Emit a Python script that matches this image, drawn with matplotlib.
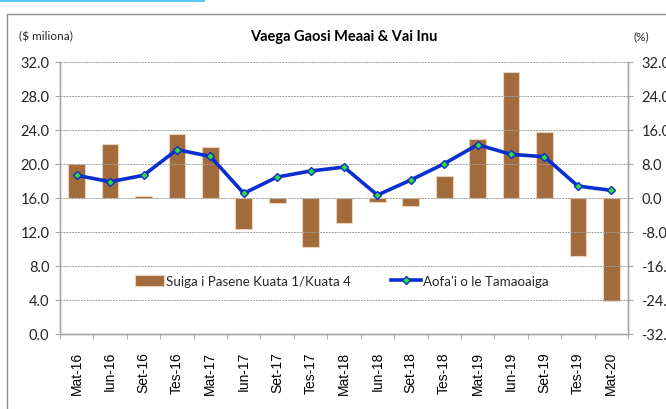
import matplotlib
matplotlib.use("Agg")
import matplotlib.pyplot as plt
from matplotlib.lines import Line2D
from matplotlib.patches import Patch, Rectangle
import numpy as np

categories = ["Mat-16", "Iun-16", "Set-16", "Tes-16", "Mat-17", "Iun-17", "Set-17", "Tes-17",
              "Mat-18", "Iun-18", "Set-18", "Tes-18", "Mat-19", "Iun-19", "Set-19", "Tes-19", "Mat-20"]
pct_change = [8.0, 12.6, 0.3, 15.0, 12.0, -7.4, -1.3, -11.7, -6.0, -1.0, -2.0, 5.2, 13.9, 29.6, 15.5, -13.7, -24.2]
level = [18.63, 17.88, 18.63, 21.65, 20.86, 16.51, 18.43, 19.14, 19.6, 16.31, 18.08, 20.0, 22.24, 21.1, 20.82, 17.37, 16.86]
left_ticks = [0, 4, 8, 12, 16, 20, 24, 28, 32]
right_ticks = [-32, -24, -16, -8, 0, 8, 16, 24, 32]

title = "Vaega Gaosi Meaai & Vai Inu"
left_unit = "($ miliona)"
right_unit = "(%)"
bar_label = "Suiga i Pasene Kuata 1/Kuata 4"
line_label = "Aofa'i o le Tamaoaiga"

W, H = 666, 410
fig = plt.figure(figsize=(W / 100, H / 100), dpi=100)
FONT = "Lato"
grey = "#A6A6A6"

# plot area in pixels
x0, x1 = 60, 628
ytop, ybot = 62.7, 334.7
ax = fig.add_axes([x0 / W, 1 - ybot / H, (x1 - x0) / W, (ybot - ytop) / H])
ax2 = ax.twinx()

x = np.arange(len(categories))
ax2.bar(x, pct_change, width=0.5, color="#A26B3B", edgecolor="#E8D2BC", linewidth=0.8, zorder=2)
ax.plot(x, level, color="#0A2FD0", linewidth=2.6, marker="D", markersize=4.5,
        markerfacecolor="#33DD33", markeredgecolor="#0A2FD0", markeredgewidth=1.0, zorder=3)

ax.set_zorder(ax2.get_zorder() + 1)
ax.patch.set_visible(False)

ax.set_ylim(0, 32)
ax.set_yticks(left_ticks)
ax.set_yticklabels([f"{v:.1f}" for v in left_ticks], fontsize=10.5, family=FONT, color="#262626")
ax2.set_ylim(-32, 32)
ax2.set_yticks(right_ticks)
ax2.set_yticklabels([f"{v:.1f}" for v in right_ticks], fontsize=10.5, family=FONT, color="#262626")

ax.set_xlim(-0.5, len(categories) - 0.5)
ax.set_xticks(x)
ax.set_xticklabels(categories, rotation=90, fontsize=10, family="Liberation Sans", color="#000000")
ax.set_xticks(np.arange(-0.5, len(categories), 1.0), minor=True)
ax.tick_params(axis="x", which="major", length=0, pad=12.5)
ax.tick_params(axis="x", which="minor", length=3.6, color=grey, direction="out")
ax.tick_params(axis="y", length=3.6, color=grey, direction="out", pad=4)
ax2.tick_params(axis="y", length=3.6, color=grey, direction="out", pad=6)

ax.yaxis.grid(True, color="#A0A0A0", linestyle=(0, (2, 1)), linewidth=0.7)
ax.set_axisbelow(True)

for a in (ax, ax2):
    a.spines["top"].set_visible(False)
    for s in ("left", "right", "bottom"):
        a.spines[s].set_color(grey)
        a.spines[s].set_linewidth(1.0)

handles = [Patch(facecolor="#A26B3B", edgecolor="#E8D2BC", linewidth=0.8),
           Line2D([0], [0], color="#0A2FD0", linewidth=2.6, marker="D", markersize=4,
                  markerfacecolor="#33DD33", markeredgecolor="#0A2FD0")]
leg = ax.legend(handles, [bar_label, line_label], ncol=2, loc="center left",
                bbox_to_anchor=((123 - x0) / (x1 - x0), (ybot - 282) / (ybot - ytop)),
                frameon=False, prop={"family": FONT, "size": 9.6},
                handlelength=2.2, handleheight=0.9, handletextpad=0.15, columnspacing=3.0)
for t in leg.get_texts():
    t.set_color("#262626")

fig.text(344 / W, 1 - 37 / H, title, ha="center", va="center", fontsize=10.5,
         fontweight="bold", family=FONT, color="#000000")
fig.text(19 / W, 1 - 37 / H, left_unit, ha="left", va="center", fontsize=8.5, family=FONT, color="#262626")
fig.text(633 / W, 1 - 37 / H, right_unit, ha="left", va="center", fontsize=8.5, family=FONT, color="#262626")

# outer chart border and top accent line
fig.add_artist(Rectangle((7 / W, -0.05), 1.0, 1 - 15 / H + 0.05, transform=fig.transFigure,
                         fill=False, edgecolor="#8C8C8C", linewidth=1.0))
fig.add_artist(Rectangle((0, 1 - 2.5 / H), 205 / W, 2.5 / H, transform=fig.transFigure,
                         facecolor="#5BC8F5", edgecolor="none"))

fig.savefig("out.png", dpi=100)
